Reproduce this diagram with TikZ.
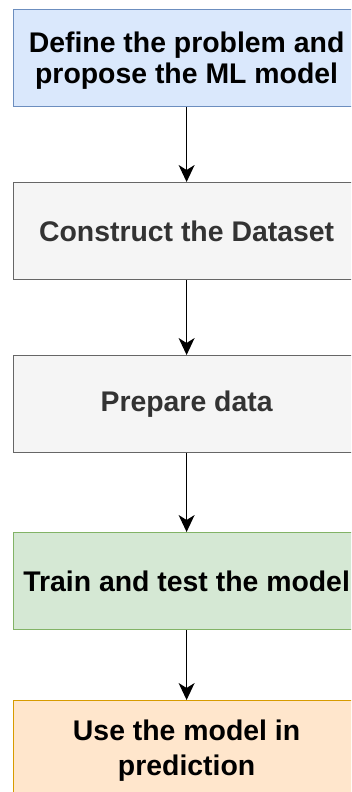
\documentclass[tikz,border=0pt]{standalone}
\usepackage{fontspec}
\setmainfont{Liberation Sans}
\usetikzlibrary{arrows.meta}
\definecolor{bluefill}{HTML}{DAE8FC}
\definecolor{bluedraw}{HTML}{6C8EBF}
\definecolor{grayfill}{HTML}{F5F5F5}
\definecolor{graydraw}{HTML}{666666}
\definecolor{graytext}{HTML}{333333}
\definecolor{greenfill}{HTML}{D5E8D4}
\definecolor{greendraw}{HTML}{82B366}
\definecolor{orangefill}{HTML}{FFE6CC}
\definecolor{orangedraw}{HTML}{D79B00}
\tikzset{
  boxfont/.style={font=\fontsize{28.4}{31}\selectfont\bfseries},
  box/.style={draw, line width=1.2pt, minimum width=346pt, minimum height=97pt, inner sep=0pt,
    align=center, boxfont, anchor=north west},
  bluebox/.style={box, fill=bluefill, draw=bluedraw},
  graybox/.style={box, fill=grayfill, draw=graydraw, text=graytext},
  greenbox/.style={box, fill=greenfill, draw=greendraw},
  orangebox/.style={box, fill=orangefill, draw=orangedraw},
  inner/.style={align=center, boxfont, inner sep=0pt},
  flow/.style={line width=1.3pt, -{Stealth[length=17pt, width=16pt, inset=5pt]}}
}
\begin{document}
\begin{tikzpicture}[x=1pt, y=-1pt]
\useasboundingbox (0,0) rectangle (351,792);
\clip (0,0) rectangle (351,792);
\node[bluebox, label={[inner, yshift=-3pt]center:{Define the problem and\\propose the ML model}}] (n1) at (13,9) {};
\node[graybox] (n2) at (13,182) {Construct the Dataset};
\node[graybox] (n3) at (13,355) {\raisebox{-2pt}{Prepare data}};
\node[greenbox] (n4) at (13,532) {Train and test the model};
\node[orangebox, label={[inner, font=\fontsize{28.4}{35}\selectfont\bfseries, yshift=-2pt]center:{Use the model in\\prediction}}] (n5) at (13,700) {};
\draw[flow] (n1) -- (n2);
\draw[flow] (n2) -- (n3);
\draw[flow] (n3) -- (n4);
\draw[flow] (n4) -- (n5);
\end{tikzpicture}
\end{document}
